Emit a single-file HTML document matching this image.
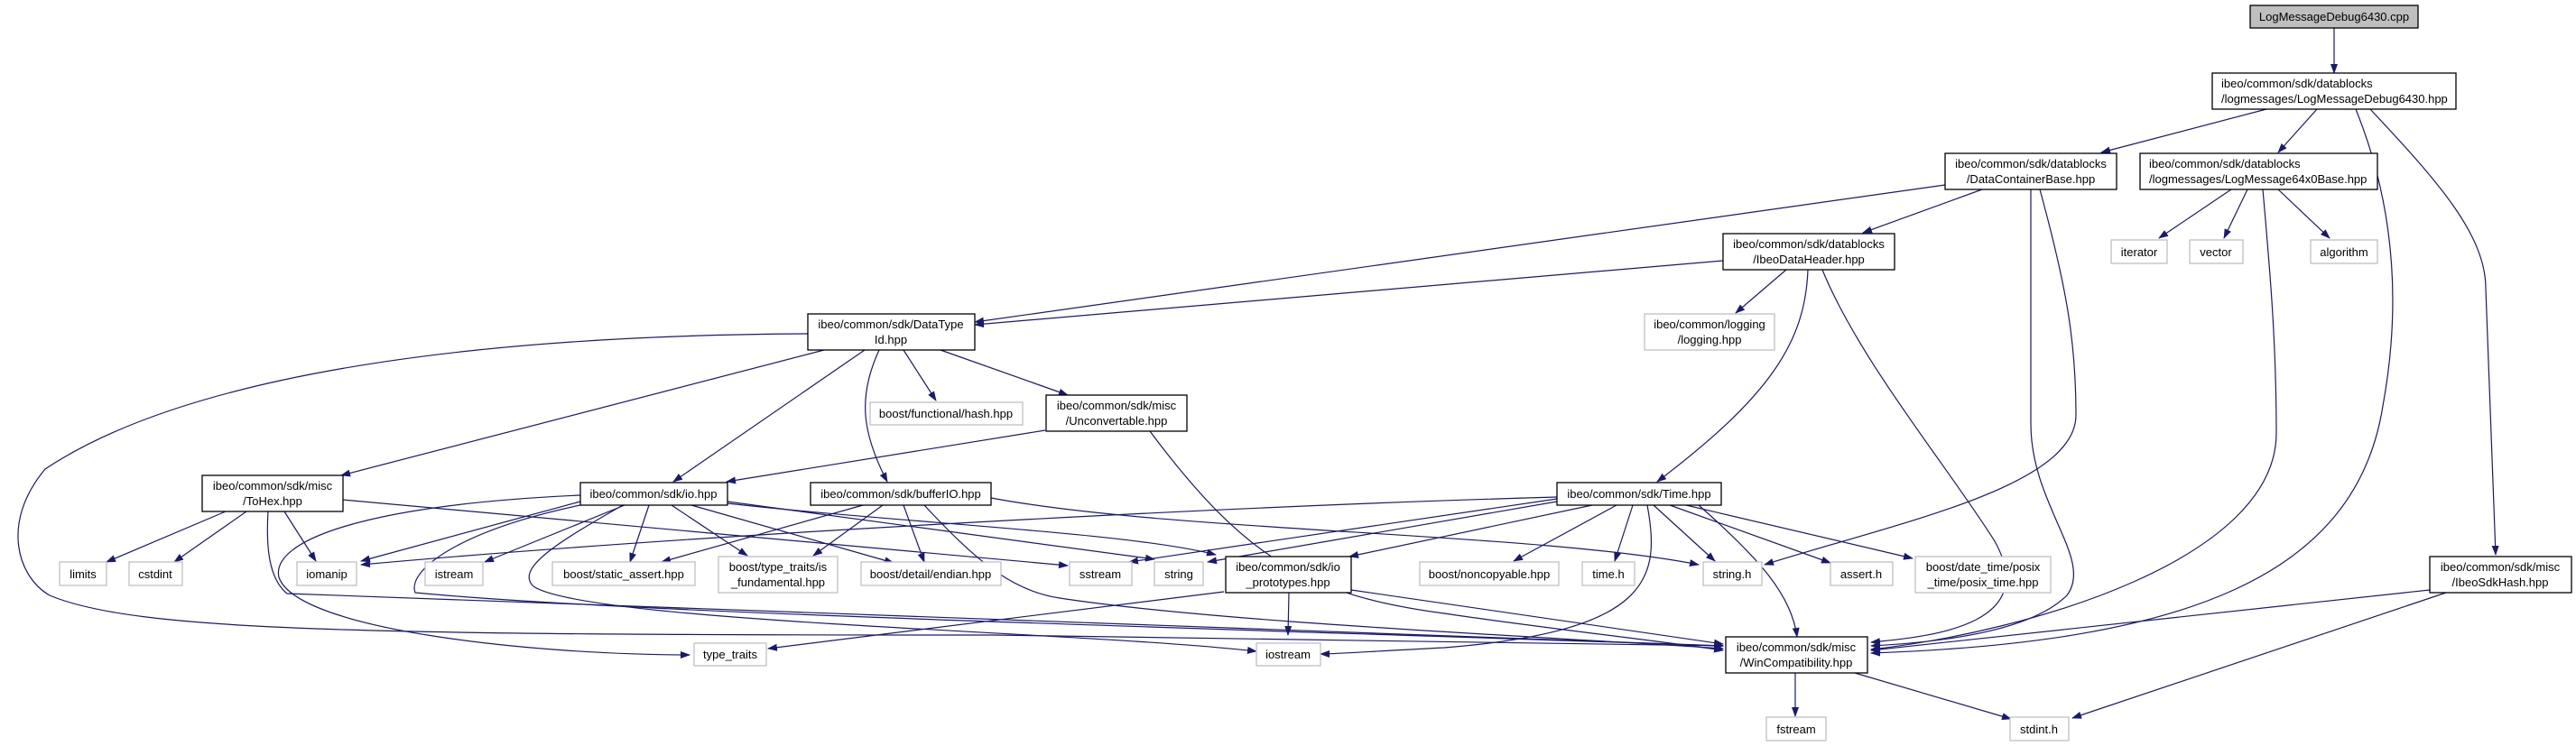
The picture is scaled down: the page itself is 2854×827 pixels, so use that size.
<!DOCTYPE html>
<html><head><meta charset="utf-8"><style>
html,body{margin:0;padding:0;background:#fff;}
svg{display:block;}
text{font-family:"Liberation Sans",Arial,sans-serif;font-size:13px;fill:#000;}
.e{fill:none;stroke:#191970;stroke-width:1.2;}
.n{fill:#fff;stroke:#000;stroke-width:1.3;}
.g{fill:#fff;stroke:#bfbfbf;stroke-width:1.3;}
</style></head><body>
<svg width="2854" height="827" viewBox="0 0 2854 827" xmlns="http://www.w3.org/2000/svg">
<defs><marker id="a" markerWidth="11" markerHeight="8" refX="10" refY="4" orient="auto" markerUnits="userSpaceOnUse"><path d="M0,0 L11,4 L0,8 z" fill="#191970"/></marker></defs>
<g class="e" marker-end="url(#a)">
<path d="M2586,31 L2586,81"/>
<path d="M2511,121 L2328,169"/>
<path d="M2567,121 L2524,169"/>
<path d="M2610,121 C2650,220 2662,330 2640,450 C2610,640 2420,712 2073,724"/>
<path d="M2626,121 C2700,200 2754,260 2754,320 L2765,615"/>
<path d="M2155,205 L1080,357"/>
<path d="M2196,210 L2064,258"/>
<path d="M2250,210 L2250,470 C2250,560 2320,620 2290,660 C2250,700 2150,712 2073,716"/>
<path d="M2260,210 C2290,320 2300,380 2300,460 C2300,540 2100,580 1955,626"/>
<path d="M2472,210 L2392,264"/>
<path d="M2490,210 L2464,264"/>
<path d="M2524,210 L2581,264"/>
<path d="M2507,210 C2515,300 2522,380 2522,480 C2522,620 2250,700 2073,720"/>
<path d="M1909,289 L1080,360"/>
<path d="M1979,299 L1923,347"/>
<path d="M2003,299 C2000,380 1960,440 1836,534"/>
<path d="M2019,299 C2060,400 2160,520 2210,600 C2260,690 2150,705 2073,712"/>
<path d="M895,370 C500,372 200,420 50,520 C0,580 20,640 55,660 C150,700 400,704 1100,704 L1909,716"/>
<path d="M913,388 L378,527"/>
<path d="M958,388 L746,534"/>
<path d="M974,388 C950,440 955,480 983,534"/>
<path d="M1001,388 L1037,444"/>
<path d="M1042,388 L1183,438"/>
<path d="M1158,477 L805,534"/>
<path d="M1274,478 C1380,620 1450,660 1600,680 C1700,695 1850,712 1909,721"/>
<path d="M250,567 L118,623"/>
<path d="M273,567 L193,623"/>
<path d="M315,567 L350,622"/>
<path d="M297,567 C295,600 296,640 318,658 L1909,716"/>
<path d="M380,554 L1183,627"/>
<path d="M643,556 L400,622"/>
<path d="M692,560 L537,623"/>
<path d="M719,560 L698,623"/>
<path d="M744,560 L828,616"/>
<path d="M766,560 L990,624"/>
<path d="M806,556 L1279,620"/>
<path d="M806,558 C1000,580 1250,590 1347,615"/>
<path d="M643,549 C400,560 300,600 309,640 C330,700 600,726 764,726"/>
<path d="M690,560 C620,600 570,630 591,650 C650,690 1200,700 1392,722"/>
<path d="M680,553 C520,580 450,630 460,657 C700,680 1300,695 1909,716"/>
<path d="M956,560 L733,623"/>
<path d="M978,560 L901,616"/>
<path d="M1001,560 L1024,623"/>
<path d="M1098,552 C1300,590 1700,590 1882,626"/>
<path d="M1024,560 C1080,620 1120,655 1174,663 C1350,690 1700,705 1909,719"/>
<path d="M1725,551 C1400,560 800,590 400,626"/>
<path d="M1725,553 L1251,623"/>
<path d="M1725,556 L1338,623"/>
<path d="M1764,560 L1495,617"/>
<path d="M1791,560 L1677,622"/>
<path d="M1809,560 L1789,622"/>
<path d="M1832,560 L1900,622"/>
<path d="M1850,560 L2028,624"/>
<path d="M1868,560 L2119,619"/>
<path d="M1882,560 C1950,620 1985,660 1991,706"/>
<path d="M1825,560 C1840,640 1830,700 1600,718 C1520,722 1480,725 1463,725"/>
<path d="M1356,656 L851,719"/>
<path d="M1428,657 L1427,704"/>
<path d="M1497,654 L1909,714"/>
<path d="M1989,746 L1989,794"/>
<path d="M2055,746 L2228,797"/>
<path d="M2710,657 L2296,796"/>
<path d="M2692,654 L2073,721"/>
</g>
<!-- nodes -->
<rect x="2493" y="6" width="186" height="25" fill="#bfbfbf" stroke="#000" stroke-width="1.3"/>
<text x="2586" y="23" text-anchor="middle">LogMessageDebug6430.cpp</text>

<rect class="n" x="2451" y="81" width="270" height="40"/>
<text x="2461" y="97">ibeo/common/sdk/datablocks</text><text x="2461" y="114">/logmessages/LogMessageDebug6430.hpp</text>

<rect class="n" x="2155" y="170" width="190" height="40"/>
<text x="2250" y="186" text-anchor="middle">ibeo/common/sdk/datablocks</text><text x="2250" y="203" text-anchor="middle">/DataContainerBase.hpp</text>

<rect class="n" x="2371" y="170" width="263" height="40"/>
<text x="2381" y="186">ibeo/common/sdk/datablocks</text><text x="2381" y="203">/logmessages/LogMessage64x0Base.hpp</text>

<rect class="n" x="1909" y="259" width="190" height="40"/>
<text x="2004" y="275" text-anchor="middle">ibeo/common/sdk/datablocks</text><text x="2004" y="292" text-anchor="middle">/IbeoDataHeader.hpp</text>

<rect class="g" x="2339" y="266" width="62" height="26"/><text x="2370" y="284" text-anchor="middle">iterator</text>
<rect class="g" x="2426" y="266" width="59" height="26"/><text x="2455" y="284" text-anchor="middle">vector</text>
<rect class="g" x="2560" y="266" width="74" height="26"/><text x="2597" y="284" text-anchor="middle">algorithm</text>

<rect class="g" x="1822" y="348" width="144" height="40"/>
<text x="1894" y="364" text-anchor="middle">ibeo/common/logging</text><text x="1894" y="381" text-anchor="middle">/logging.hpp</text>

<rect class="n" x="895" y="348" width="185" height="40"/>
<text x="987" y="364" text-anchor="middle">ibeo/common/sdk/DataType</text><text x="987" y="381" text-anchor="middle">Id.hpp</text>

<rect class="g" x="964" y="446" width="169" height="25"/><text x="1048" y="463" text-anchor="middle">boost/functional/hash.hpp</text>

<rect class="n" x="1159" y="438" width="156" height="40"/>
<text x="1237" y="454" text-anchor="middle">ibeo/common/sdk/misc</text><text x="1237" y="471" text-anchor="middle">/Unconvertable.hpp</text>

<rect class="n" x="224" y="527" width="156" height="40"/>
<text x="302" y="543" text-anchor="middle">ibeo/common/sdk/misc</text><text x="302" y="560" text-anchor="middle">/ToHex.hpp</text>

<rect class="n" x="643" y="535" width="163" height="25"/><text x="724" y="552" text-anchor="middle">ibeo/common/sdk/io.hpp</text>
<rect class="n" x="898" y="535" width="200" height="25"/><text x="998" y="552" text-anchor="middle">ibeo/common/sdk/bufferIO.hpp</text>
<rect class="n" x="1725" y="535" width="182" height="25"/><text x="1816" y="552" text-anchor="middle">ibeo/common/sdk/Time.hpp</text>

<rect class="g" x="66" y="623" width="52" height="26"/><text x="92" y="641" text-anchor="middle">limits</text>
<rect class="g" x="143" y="623" width="59" height="26"/><text x="172" y="641" text-anchor="middle">cstdint</text>
<rect class="g" x="329" y="623" width="66" height="26"/><text x="362" y="641" text-anchor="middle">iomanip</text>
<rect class="g" x="471" y="623" width="64" height="26"/><text x="503" y="641" text-anchor="middle">istream</text>
<rect class="g" x="612" y="623" width="158" height="26"/><text x="691" y="641" text-anchor="middle">boost/static_assert.hpp</text>
<rect class="g" x="796" y="617" width="132" height="40"/>
<text x="862" y="633" text-anchor="middle">boost/type_traits/is</text><text x="862" y="650" text-anchor="middle">_fundamental.hpp</text>
<rect class="g" x="954" y="623" width="155" height="26"/><text x="1031" y="641" text-anchor="middle">boost/detail/endian.hpp</text>
<rect class="g" x="1185" y="623" width="69" height="26"/><text x="1219" y="641" text-anchor="middle">sstream</text>
<rect class="g" x="1279" y="623" width="54" height="26"/><text x="1306" y="641" text-anchor="middle">string</text>
<rect class="n" x="1358" y="617" width="139" height="40"/>
<text x="1427" y="633" text-anchor="middle">ibeo/common/sdk/io</text><text x="1427" y="650" text-anchor="middle">_prototypes.hpp</text>
<rect class="g" x="1573" y="623" width="154" height="26"/><text x="1650" y="641" text-anchor="middle">boost/noncopyable.hpp</text>
<rect class="g" x="1753" y="623" width="58" height="26"/><text x="1782" y="641" text-anchor="middle">time.h</text>
<rect class="g" x="1887" y="623" width="65" height="26"/><text x="1919" y="641" text-anchor="middle">string.h</text>
<rect class="g" x="2028" y="623" width="69" height="26"/><text x="2062" y="641" text-anchor="middle">assert.h</text>
<rect class="g" x="2122" y="617" width="150" height="40"/>
<text x="2197" y="633" text-anchor="middle">boost/date_time/posix</text><text x="2197" y="650" text-anchor="middle">_time/posix_time.hpp</text>
<rect class="n" x="2692" y="617" width="157" height="40"/>
<text x="2770" y="633" text-anchor="middle">ibeo/common/sdk/misc</text><text x="2770" y="650" text-anchor="middle">/IbeoSdkHash.hpp</text>

<rect class="g" x="769" y="713" width="80" height="25"/><text x="809" y="730" text-anchor="middle">type_traits</text>
<rect class="g" x="1392" y="713" width="71" height="25"/><text x="1427" y="730" text-anchor="middle">iostream</text>
<rect class="n" x="1912" y="706" width="157" height="40"/>
<text x="1990" y="722" text-anchor="middle">ibeo/common/sdk/misc</text><text x="1990" y="739" text-anchor="middle">/WinCompatibility.hpp</text>

<rect class="g" x="1957" y="795" width="66" height="26"/><text x="1990" y="813" text-anchor="middle">fstream</text>
<rect class="g" x="2227" y="795" width="65" height="26"/><text x="2259" y="813" text-anchor="middle">stdint.h</text>
</svg>
</body></html>
